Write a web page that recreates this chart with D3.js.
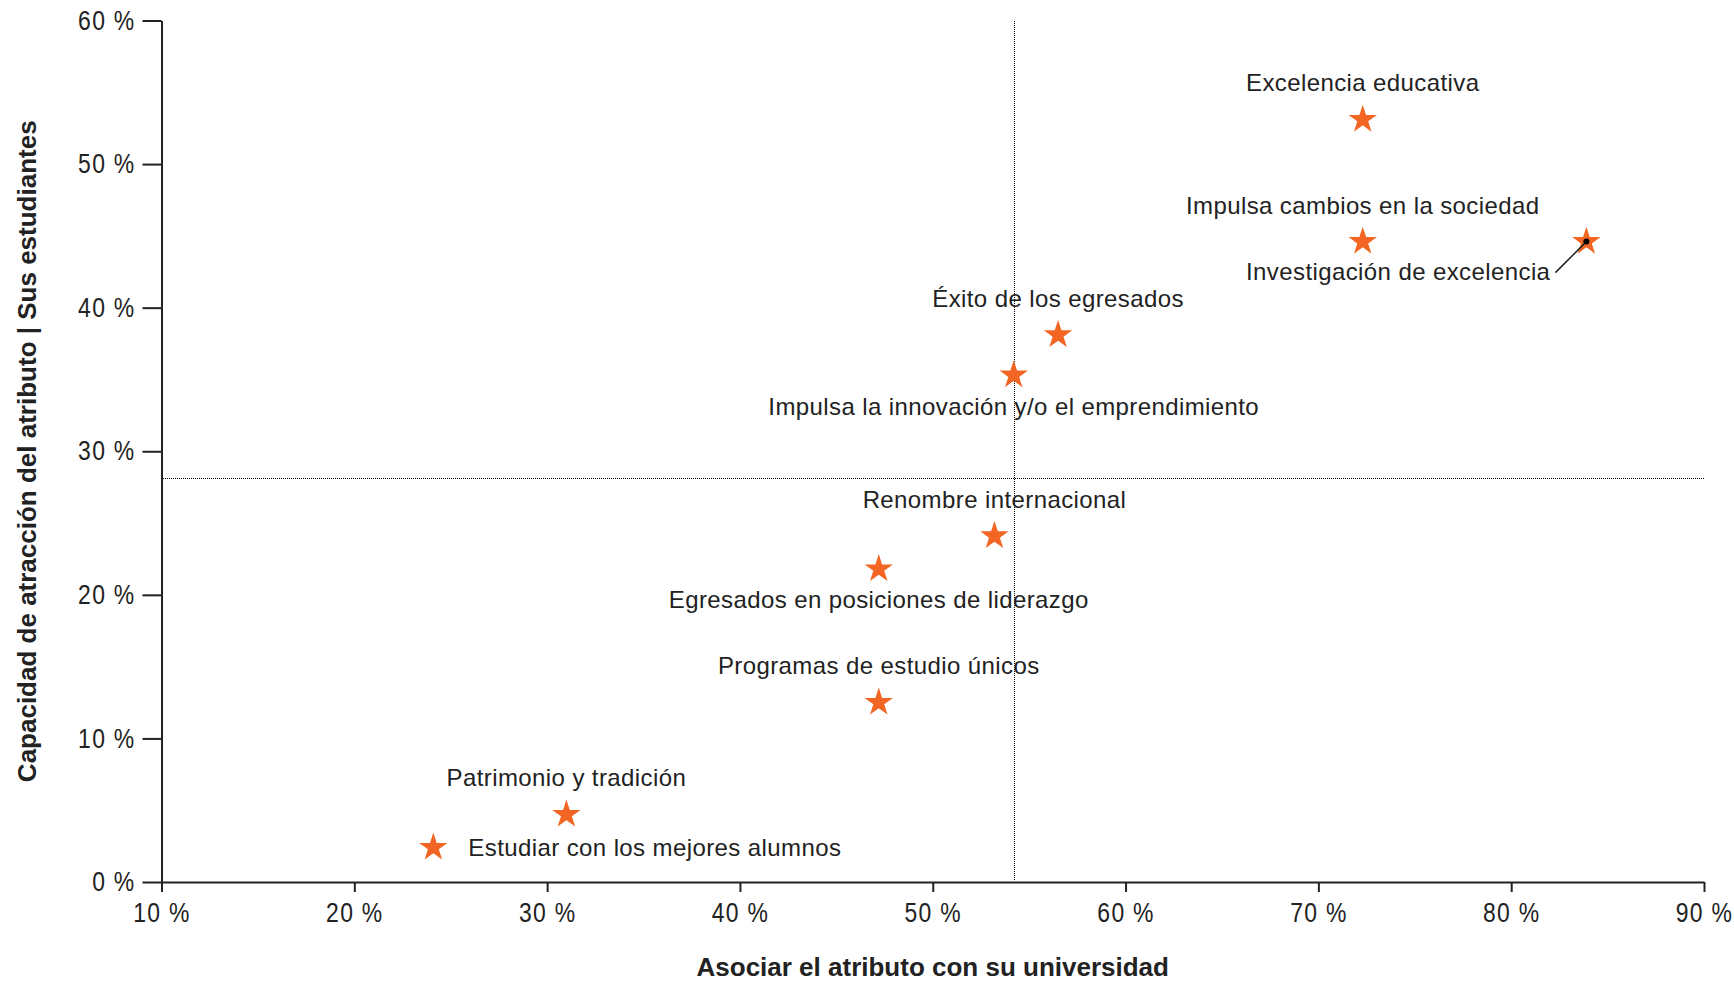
<!DOCTYPE html>
<html>
<head>
<meta charset="utf-8">
<script src="https://cdn.jsdelivr.net/npm/d3@7"></script>
<style>
  html, body { margin: 0; padding: 0; background: #fff; }
  svg { display: block; }
</style>
</head>
<body>
<script>
// ---- data ----
const attributes = [
  "Excelencia educativa",
  "Impulsa cambios en la sociedad",
  "Investigación de excelencia",
  "Éxito de los egresados",
  "Impulsa la innovación y/o el emprendimiento",
  "Renombre internacional",
  "Egresados en posiciones de liderazgo",
  "Programas de estudio únicos",
  "Patrimonio y tradición",
  "Estudiar con los mejores alumnos"
];
const associateValues = [72.3, 72.3, 83.9, 56.5, 54.2, 53.2, 47.2, 47.2, 31.0, 24.1];
const attractionValues = [53.1, 44.6, 44.6, 38.1, 35.3, 24.1, 21.8, 12.5, 4.7, 2.4];
const labelPlacement = ["top", "top", "leader", "top", "bottom", "top", "bottom", "top", "top", "right"];
const xTicks = [10, 20, 30, 40, 50, 60, 70, 80, 90];
const yTicks = [0, 10, 20, 30, 40, 50, 60];
const xTitle = "Asociar el atributo con su universidad";
const yTitle = "Capacidad de atracción del atributo | Sus estudiantes";

// ---- layout ----
const W = 1734, H = 981;
const mLeft = 161.5, mRight = 1704, mTop = 20.5, mBottom = 882;
const ink = "#222";
const starColor = "#f26522";
const narrow = 0.85;

const svg = d3.select("body").append("svg").attr("width", W).attr("height", H);

const x = d3.scaleLinear().domain([10, 90]).range([mLeft, mRight]);
const y = d3.scaleLinear().domain([0, 60]).range([mBottom, mTop]);

const points = attributes.map((a, i) => ({
  name: a, x: associateValues[i], y: attractionValues[i], pos: labelPlacement[i]
}));

// mean reference lines (dotted)
const mx = d3.mean(associateValues), my = d3.mean(attractionValues);
svg.append("line")
  .attr("x1", Math.round(x(mx)) + 0.5).attr("x2", Math.round(x(mx)) + 0.5)
  .attr("y1", Math.round(y(60))).attr("y2", Math.round(mBottom) - 1)
  .attr("stroke", "#000").attr("stroke-width", 1).attr("stroke-dasharray", "1,1")
  .attr("shape-rendering", "crispEdges");
svg.append("line")
  .attr("x1", Math.ceil(mLeft) + 1).attr("x2", Math.round(x(90)))
  .attr("y1", Math.round(y(my)) + 0.5).attr("y2", Math.round(y(my)) + 0.5)
  .attr("stroke", "#000").attr("stroke-width", 1).attr("stroke-dasharray", "1,1")
  .attr("shape-rendering", "crispEdges");

// axes
const xAxis = d3.axisBottom(x).tickValues(xTicks).tickFormat(d => d + " %")
  .tickSizeInner(10).tickSizeOuter(0).tickPadding(11);
const yAxis = d3.axisLeft(y).tickValues(yTicks).tickFormat(d => d + " %")
  .tickSizeInner(19).tickSizeOuter(0).tickPadding(7);

const gx = svg.append("g").attr("transform", `translate(0,${mBottom})`).call(xAxis);
const gy = svg.append("g").attr("transform", `translate(${mLeft},0)`).call(yAxis);
[gx, gy].forEach(g => {
  g.select(".domain").attr("stroke", ink).attr("stroke-width", 2);
  g.selectAll(".tick line").attr("stroke", ink).attr("stroke-width", 2);
  g.selectAll(".tick text")
    .attr("fill", ink)
    .style("font-family", "'Liberation Sans', Arial, sans-serif")
    .style("font-size", "27px")
    .style("letter-spacing", "1.5px");
});
gx.selectAll(".tick text").attr("transform", `scale(${narrow},1)`);
gy.selectAll(".tick text").attr("x", -26 / narrow).attr("transform", `scale(${narrow},1)`);

// axis titles
svg.append("text")
  .attr("x", (mLeft + mRight) / 2).attr("y", 976)
  .attr("text-anchor", "middle")
  .attr("fill", ink)
  .style("font-family", "'Liberation Sans', Arial, sans-serif")
  .style("font-weight", "bold").style("font-size", "26px")
  .text(xTitle);

svg.append("text")
  .attr("transform", `translate(36,${(mTop + mBottom) / 2}) rotate(-90)`)
  .attr("text-anchor", "middle")
  .attr("fill", ink)
  .style("font-family", "'Liberation Sans', Arial, sans-serif")
  .style("font-weight", "bold").style("font-size", "26px")
  .text(yTitle);

// stars
const star = d3.symbol().type(d3.symbolStar).size(250);
svg.append("g").selectAll("path").data(points).join("path")
  .attr("d", star)
  .attr("transform", d => `translate(${x(d.x)},${y(d.y)})`)
  .attr("fill", starColor);

// leader line + dot
const leaders = points.filter(d => d.pos === "leader");
svg.append("g").selectAll("line").data(leaders).join("line")
  .attr("x1", d => x(d.x) - 31).attr("y1", d => y(d.y) + 31)
  .attr("x2", d => x(d.x)).attr("y2", d => y(d.y))
  .attr("stroke", ink).attr("stroke-width", 1.5);
svg.append("g").selectAll("circle").data(leaders).join("circle")
  .attr("cx", d => x(d.x)).attr("cy", d => y(d.y)).attr("r", 3)
  .attr("fill", "#000");

// labels
svg.append("g").selectAll("text").data(points).join("text")
  .attr("x", d => d.pos === "right" ? x(d.x) + 35 : d.pos === "leader" ? x(d.x) - 36 : x(d.x))
  .attr("y", d => {
    const cy = y(d.y);
    if (d.pos === "top") return cy - 36.5;
    if (d.pos === "bottom") return cy + 31;
    if (d.pos === "leader") return cy + 30;
    return cy;
  })
  .attr("dy", "0.35em")
  .attr("text-anchor", d => d.pos === "right" ? "start" : d.pos === "leader" ? "end" : "middle")
  .attr("fill", ink)
  .style("font-family", "'Liberation Sans', Arial, sans-serif")
  .style("font-size", "24px")
  .style("letter-spacing", "0.4px")
  .text(d => d.name);
</script>
</body>
</html>
